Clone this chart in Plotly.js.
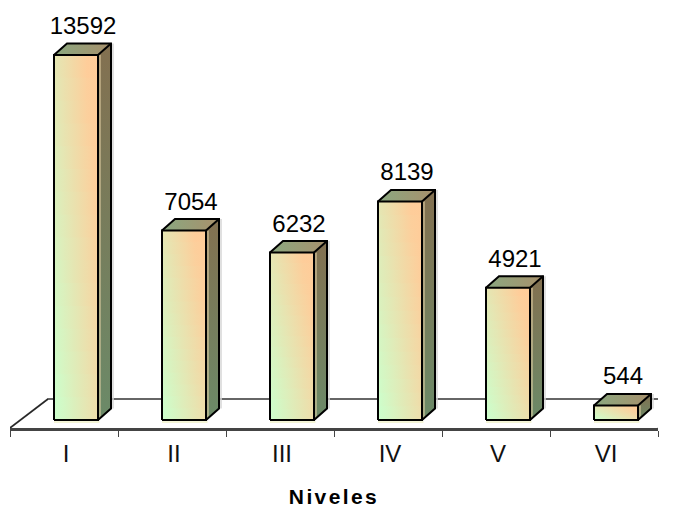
<!DOCTYPE html>
<html><head><meta charset="utf-8">
<script src="https://cdn.plot.ly/plotly-3.0.1.min.js"></script>
<style>html,body{margin:0;padding:0;background:#fff}.xtitle{letter-spacing:2.4px}.g-xtitle{transform:translateY(1.5px)}</style>
</head><body><div id="chart" style="width:683px;height:505px"></div>
<script>
const categories = ['I','II','III','IV','V','VI'];
const values = [13592,7054,6232,8139,4921,544];
const axisTitle = 'Niveles';

const W=683,H=505,mL=10,mR=25,mT=0,mB=77;
const yMin=-298,yMax=15637;
const pxX=6/(W-mL-mR), pxY=(yMax-yMin)/(H-mT-mB);
const off=12*pxX, hw=22*pxX, dx=13*pxX, dy=11.5*pxY;
const xMin=-0.5,xMax=5.5;
const floorDX=38*pxX,floorDY=29*pxY;
const GREEN=[204,255,204],PEACH=[255,204,153];
const mix=(a,b,t)=>{t=Math.max(0,Math.min(1,t));return 'rgb('+a.map((c,i)=>Math.round(c+(b[i]-c)*t)).join(',')+')'};
const traces=[];
const base={type:'scatter',mode:'lines',hoverinfo:'skip',showlegend:false,cliponaxis:false};
const line=(x,y,color,width)=>traces.push({...base,x,y,line:{color,width}});
// floor
line([xMin,xMin+floorDX,xMax+floorDX],[yMin,yMin+floorDY,yMin+floorDY],'#666',1.8);
line([xMin,xMin+floorDX],[yMin,yMin+floorDY],'#222',1.1);
line([xMax,xMax+floorDX],[yMin,yMin+floorDY],'#222',1.1);
// bars
const N=16;
values.forEach((v,i)=>{
  const x0=i+off-hw,x1=i+off+hw;
  // soft shadow
  line([x0,x1+1.5*pxX],[-2*pxY,-2*pxY],'#f0f2c8',1.5);
  line([x1+dx+2*pxX,x1+dx+2*pxX],[dy,v+dy],'#d6d6d6',1.5);
  for(let k=0;k<N;k++){
    const f=k/N;
    const stops=[0,.25,.5,.75,1].map(u=>[u,mix(GREEN,PEACH,0.68*u+0.5*(f+.5/N)-0.02)]);
    traces.push({...base,x:[x0,x1,x1,x0,x0],y:[v*f,v*f,v,v,v*f],fill:'toself',line:{width:0},
      fillgradient:{type:'horizontal',colorscale:stops}});
  }
  // side
  traces.push({...base,x:[x1,x1+dx,x1+dx,x1,x1],y:[0,dy,v+dy,v,0],fill:'toself',line:{width:0},
    fillgradient:{type:'vertical',colorscale:[[0,'#6b8a68'],[1,'#837050']]}});
  // top
  traces.push({...base,x:[x0,x1,x1+dx,x0+dx,x0],y:[v,v,v+dy,v+dy,v],fill:'toself',line:{width:0},
    fillgradient:{type:'horizontal',colorscale:[[0,'#8aa880'],[1,'#a8906c']]}});
  // highlight between face and side
  line([x1+2*pxX,x1+2*pxX],[1.5*pxY,v],'#e8d4a8',1);
  // outlines
  line([x0,x1,x1,x0,x0],[0,0,v,v,0],'#000',2);
  line([x1,x1+dx,x1+dx,x0+dx,x0],[0,dy,v+dy,v+dy,v],'#000',2);
  line([x1,x1+dx],[v,v+dy],'#000',2);
});
// labels
traces.push({...base,mode:'text',x:values.map((v,i)=>i+off+7*pxX),y:values.map(v=>v+27*pxY),
  text:values.map(String),textposition:'middle center',
  textfont:{family:'Liberation Sans, Arial, sans-serif',size:24,color:'#000'}});

const layout={width:W,height:H,margin:{l:mL,r:mR,t:mT,b:mB,pad:0},paper_bgcolor:'#fff',plot_bgcolor:'rgba(0,0,0,0)',showlegend:false,
  xaxis:{type:'linear',range:[xMin,xMax],tickmode:'array',tickvals:categories.map((c,i)=>i),ticktext:categories,ticks:'',
    showgrid:false,zeroline:false,showline:true,linecolor:'#444',linewidth:2.5,
    ticklabelstandoff:3,ticklabelshift:2,
    tickfont:{family:'Liberation Sans, Arial, sans-serif',size:24,color:'#111'},
    minor:{ticks:'outside',tick0:-0.5,dtick:1,ticklen:6,tickwidth:1,tickcolor:'#444',showgrid:false},
    title:{text:axisTitle,font:{family:'Liberation Sans, Arial, sans-serif',size:21,weight:'bold',color:'#000'}}},
  yaxis:{range:[yMin,yMax],visible:false,fixedrange:true}};
Plotly.newPlot('chart',traces,layout,{displayModeBar:false,staticPlot:true});
</script></body></html>
